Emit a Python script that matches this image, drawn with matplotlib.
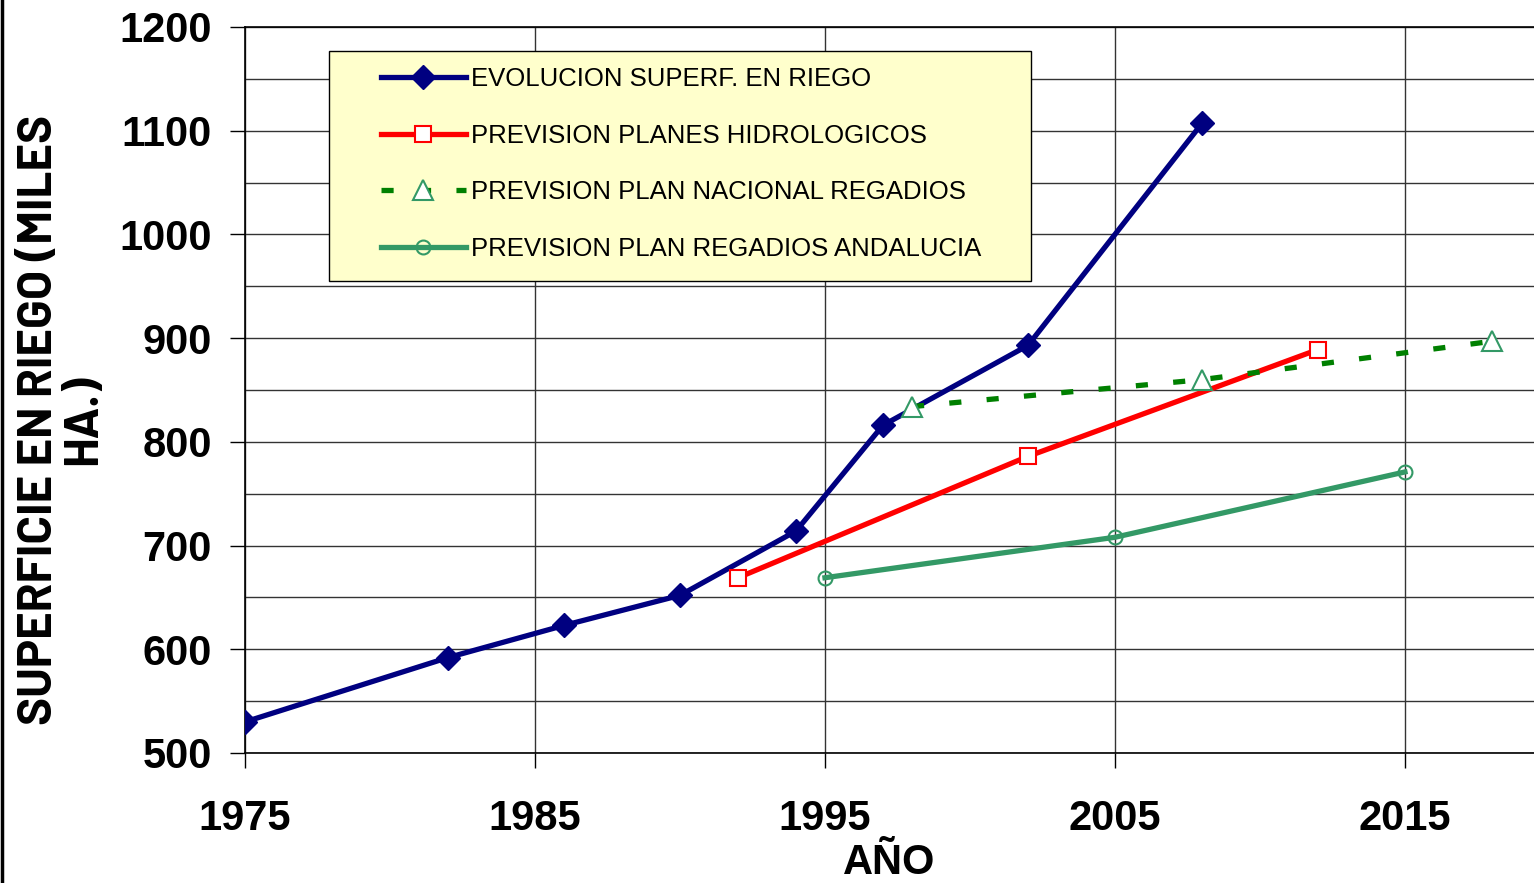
import matplotlib
matplotlib.use("Agg")
import matplotlib.pyplot as plt
from matplotlib.lines import Line2D
from matplotlib.patches import Rectangle
from matplotlib.ticker import MultipleLocator, FixedLocator

# data
years_evol = [1975, 1982, 1986, 1990, 1994, 1997, 2002, 2008]
sup_evol = [530, 592, 623, 652, 714, 816, 893, 1107]

years_hidro = [1992, 2002, 2012]
sup_hidro = [669, 786, 889]

years_pnr = [1998, 2008, 2018]
sup_pnr = [834, 860, 897]

years_and = [1995, 2005, 2015]
sup_and = [669, 708, 771]

x_ticks = [1975, 1985, 1995, 2005, 2015]

labels = ["EVOLUCION SUPERF. EN RIEGO",
          "PREVISION PLANES HIDROLOGICOS",
          "PREVISION PLAN NACIONAL REGADIOS",
          "PREVISION PLAN REGADIOS ANDALUCIA"]

arial = ["Liberation Sans", "DejaVu Sans"]
cond_bold = ["Barlow", "Barlow Semi Condensed", "Liberation Sans", "DejaVu Sans"]

W, H = 1534, 883
fig = plt.figure(figsize=(W / 100, H / 100), dpi=100)
ax = fig.add_axes([245 / W, 1 - 753 / H, 1 - 245 / W, (753 - 27) / H])

ax.plot(years_evol, sup_evol, color="#000080", lw=3.8, marker="D",
        ms=12, mfc="#000080", mec="#000080", label=labels[0], zorder=3)
ax.plot(years_hidro, sup_hidro, color="#FF0000", lw=3.8, marker="s",
        ms=11, mfc="white", mec="#FF0000", mew=1.5, label=labels[1], zorder=3)
ax.plot(years_pnr, sup_pnr, color="#008000", lw=3.8, ls=(0, (2.3, 4.8)),
        marker="^", ms=15, mfc="white", mec="#339966", mew=1.5,
        label=labels[2], zorder=4)
ax.plot(years_and, sup_and, color="#339966", lw=3.8, marker="o",
        ms=10, mfc="none", mec="#339966", mew=1.5, label=labels[3], zorder=3)

ax.set_xlim(1975, 2019.45)
ax.set_ylim(500, 1200)
ax.xaxis.set_major_locator(FixedLocator(x_ticks))
ax.yaxis.set_major_locator(MultipleLocator(100))
ax.yaxis.set_minor_locator(MultipleLocator(50))
ax.grid(True, which="major", color="#333333", lw=1.0)
ax.grid(True, which="minor", axis="y", color="#333333", lw=1.0)
ax.tick_params(axis="both", which="major", direction="out", length=11,
               width=1.0, labelsize=30, pad=13)
ax.tick_params(axis="x", which="major", pad=22)
ax.tick_params(axis="y", which="minor", length=0)
for lbl in ax.get_xticklabels() + ax.get_yticklabels():
    lbl.set_fontweight("bold")
    lbl.set_family(arial)

for s in ["left", "bottom", "top"]:
    ax.spines[s].set_color("black")
    ax.spines[s].set_linewidth(1.2)
ax.spines["right"].set_visible(False)

ax.set_xlabel("AÑO", fontsize=30, fontweight="bold", family=arial, labelpad=3)
ax.set_ylabel("SUPERFICIE EN RIEGO (MILES\nHA.)", fontsize=34,
              fontweight="bold", family=cond_bold, labelpad=10,
              linespacing=1.05)
ax.yaxis.label.set_y(0.459)

# legend box drawn separately so the padding matches the reference
box = Rectangle((329 / W, 1 - 281 / H), (1031 - 329) / W, (281 - 51) / H,
                transform=fig.transFigure, facecolor="#FFFFCC",
                edgecolor="black", lw=1.0, zorder=4.5)
ax.add_artist(box)
box.set_clip_on(False)

leg = ax.legend(loc="upper left", bbox_to_anchor=(381 / W, 1 - 67 / H),
                bbox_transform=fig.transFigure,
                prop={"family": arial, "size": 18.5},
                frameon=False, handlelength=3.3, handletextpad=0.2,
                labelspacing=1.27, borderpad=0, borderaxespad=0)
leg.set_zorder(5)

fig.add_artist(Line2D([0.0015, 0.0015], [0, 1], color="black", lw=2.5,
                      transform=fig.transFigure))

fig.savefig("out.png", dpi=100)
